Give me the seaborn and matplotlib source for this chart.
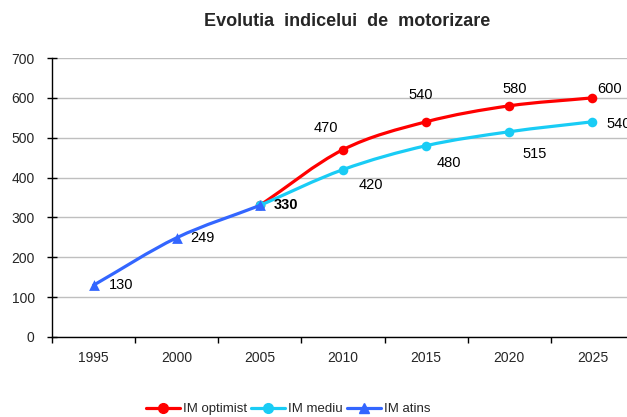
import matplotlib
matplotlib.use("Agg")
import matplotlib.pyplot as plt
import numpy as np
import pandas as pd
import seaborn as sns
from matplotlib.lines import Line2D
from matplotlib.patches import PathPatch
from matplotlib.path import Path

# data
years = ["1995", "2000", "2005", "2010", "2015", "2020", "2025"]
atins_years = ["1995", "2000", "2005"]
atins_vals = [130, 249, 330]
optimist_years = ["2005", "2010", "2015", "2020", "2025"]
optimist_vals = [330, 470, 540, 580, 600]
mediu_years = ["2005", "2010", "2015", "2020", "2025"]
mediu_vals = [330, 420, 480, 515, 540]

RED = "#FF0000"
CYAN = "#19CCF5"
BLUE = "#3366FF"

sns.set_theme(style="white")
plt.rcParams["font.family"] = ["Liberation Sans", "DejaVu Sans"]


def smooth_path(xs, ys):
    # Excel-like smoothed line: cubic Bezier through every point
    pts = np.column_stack([xs, ys]).astype(float)
    ext = np.vstack([2 * pts[0] - pts[1], pts, 2 * pts[-1] - pts[-2]])
    verts, codes = [pts[0]], [Path.MOVETO]
    for i in range(len(pts) - 1):
        p0, p1, p2, p3 = ext[i], ext[i + 1], ext[i + 2], ext[i + 3]
        verts += [p1 + (p2 - p0) / 6, p2 - (p3 - p1) / 6, p2]
        codes += [Path.CURVE4] * 3
    return Path(verts, codes)


fig = plt.figure(figsize=(6.27, 4.17), dpi=100)
ax = fig.add_axes([52 / 627, 80 / 417, 582 / 627, 279 / 417])

series = [
    ("IM optimist", optimist_years, optimist_vals, RED, "o"),
    ("IM mediu", mediu_years, mediu_vals, CYAN, "o"),
    ("IM atins", atins_years, atins_vals, BLUE, "^"),
]
handles = []
for z, (name, yrs, vals, col, mk) in enumerate(series):
    df = pd.DataFrame({"x": [years.index(y) for y in yrs], "y": vals})
    ax.add_patch(PathPatch(smooth_path(df["x"], df["y"]), fill=False,
                           edgecolor=col, lw=2.3, zorder=3 + z, capstyle="round"))
    sns.scatterplot(data=df, x="x", y="y", marker=mk, color=col,
                    s=48 if mk == "o" else 60, edgecolor=col, linewidth=0,
                    ax=ax, zorder=3.5 + z, legend=False)
    handles.append(Line2D([], [], color=col, lw=2.3, marker=mk, markersize=7,
                          markeredgecolor=col, label=name))

# data labels (pixel offsets from the point)
label_spec = [
    (atins_years, atins_vals, [(15, 0), (14, 0), (14, 0)], "left"),
    (optimist_years[1:4], optimist_vals[1:4], [(-17, 22), (-5, 27), (5, 17)], "center"),
    (optimist_years[4:], optimist_vals[4:], [(17, 9)], "center"),
    (mediu_years[1:4], mediu_vals[1:4], [(28, -15), (23, -17), (25, -22)], "center"),
    (mediu_years[4:], mediu_vals[4:], [(14, -2)], "left"),
]
for yrs, vals, offs, ha in label_spec:
    for y, v, off in zip(yrs, vals, offs):
        ax.annotate(str(v), (years.index(y), v), xytext=off,
                    textcoords="offset pixels", ha=ha, va="center",
                    fontsize=10.5, color="black", zorder=10,
                    fontweight="bold" if v == 330 else "normal",
                    annotation_clip=False)

ax.set_xlim(-0.5, len(years) - 0.5)
ax.set_ylim(0, 700)
ax.set_yticks(range(0, 701, 100))
ax.set_xticks(np.arange(len(years) + 1) - 0.5)
ax.set_xticklabels([])
ax.set_xticks(range(len(years)), minor=True)
ax.set_xticklabels(years, minor=True)
ax.tick_params(axis="x", which="major", direction="out", length=4, width=1,
               color="black", bottom=True)
ax.tick_params(axis="x", which="minor", length=0, pad=10, labelsize=10)
ax.tick_params(axis="y", direction="inout", length=7, width=1, color="black",
               left=True, pad=9, labelsize=10)
ax.set_xlabel("")
ax.set_ylabel("")
ax.yaxis.grid(True, color="#BFBFBF", lw=1)
ax.xaxis.grid(False)
ax.set_axisbelow(True)
for side in ["top", "right"]:
    ax.spines[side].set_visible(False)
for side in ["left", "bottom"]:
    ax.spines[side].set_color("black")
    ax.spines[side].set_linewidth(1)

fig.text(347 / 627, 1 - 22 / 417, "Evolutia  indicelui  de  motorizare",
         ha="center", va="center", fontsize=13, fontweight="bold")

fig.legend(handles=handles, loc="center", bbox_to_anchor=(288 / 627, 1 - 409 / 417),
           ncol=3, frameon=False, fontsize=9.5, handlelength=2.6,
           handletextpad=0.2, columnspacing=0.3, borderaxespad=0)

fig.savefig("out.png", dpi=100)
